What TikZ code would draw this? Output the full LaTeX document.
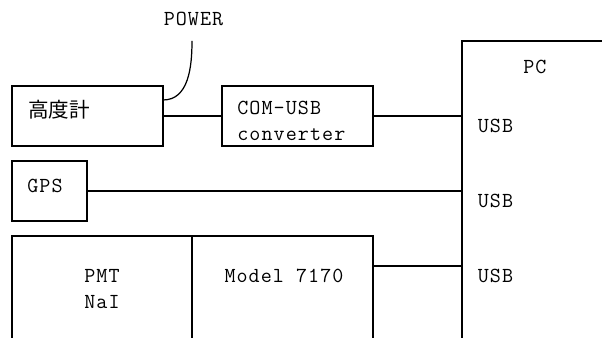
\documentclass[tikz,border=0pt]{standalone}
\usepackage{fontspec}
\setmonofont{Latin Modern Mono}[LetterSpace=5.0]
\newfontfamily\jpfont{Noto Sans CJK JP}
\usepackage{tikz}
\usetikzlibrary{positioning}

\begin{document}
\begin{tikzpicture}[
        box/.style={rectangle, draw=black, line width=0.7pt, minimum height=1.2cm, inner sep=0pt, outer sep=0pt},
        lbl/.style={inner sep=0pt, font=\ttfamily\fontsize{12.2pt}{14.7pt}\selectfont},
        wire/.style={line width=0.7pt}
    ]
        \useasboundingbox (0,0) rectangle (12.04,6.76);
        \clip (0,0) rectangle (12.04,6.76);

        % Nodes
        \node[box, minimum width=3.02cm] (alt) at (1.75,4.44) {};
        \node[box, minimum width=3.02cm, right=1.18cm of alt] (conv) {};
        \node[box, minimum width=1.5cm, below right=0.3cm and 0cm of alt.south west] (gps) {};
        \node[box, minimum width=3.6cm, minimum height=2.6cm, below right=0.3cm and 0cm of gps.south west] (pmt) {};
        \node[box, minimum width=3.62cm, minimum height=2.6cm, right=0cm of pmt] (model) {};
        \node[box, minimum width=4cm, minimum height=7cm, anchor=north west] (pc) at (9.24,5.94) {};

        % Labels
        \node[lbl, font=\jpfont\fontsize{11.7pt}{14.7pt}\selectfont, right=0.32cm of alt.west, yshift=0.12cm] (altlbl) {高度計};
        \node[lbl, align=left, right=0.3cm of conv.west, yshift=-0.1cm] (convlbl) {COM-USB\\converter};
        \node[lbl, right=0.3cm of gps.west, yshift=0.11cm] (gpslbl) {GPS};
        \node[lbl, align=center, below=0.66cm of pmt.north] (pmtlbl) {PMT\\NaI};
        \node[lbl, below=0.66cm of model.north, xshift=0.03cm] (modellbl) {Model 7170};
        \node[lbl, below right=0.38cm and 1.22cm of pc.north west] (pclbl) {PC};
        \coordinate[above right=0.9cm and 0.58cm of alt.north east] (plug);
        \node[lbl, above=0.3cm of plug, xshift=0.03cm] (power) {POWER};

        % Lines
        \draw[wire] (alt) -- (conv);
        \draw[wire] (conv) -- (conv -| pc.west) coordinate (usb1);
        \draw[wire] (gps) -- (gps -| pc.west) coordinate (usb2);
        \draw[wire] (model.north east) ++(0,-0.6) coordinate (mout) -- (mout -| pc.west) coordinate (usb3);
        \draw[wire] ([yshift=-0.28cm]alt.north east) to[out=0, in=-90] (plug);

        \node[lbl, right=0.31cm of usb1, yshift=-0.19cm] (usbA) {USB};
        \node[lbl, right=0.31cm of usb2, yshift=-0.19cm] (usbB) {USB};
        \node[lbl, right=0.31cm of usb3, yshift=-0.19cm] (usbC) {USB};
    \end{tikzpicture}
\end{document}
